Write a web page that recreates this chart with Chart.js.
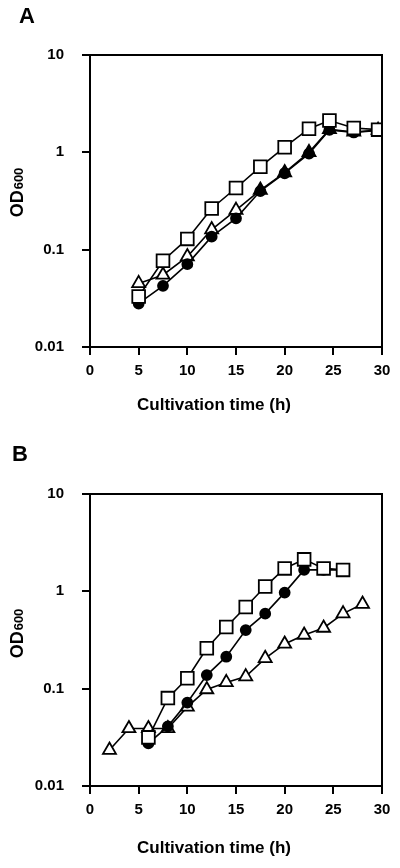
<!DOCTYPE html>
<html>
<head>
<meta charset="utf-8">
<script src="https://cdn.jsdelivr.net/npm/chart.js@4.4.1/dist/chart.umd.min.js"></script>
<style>
  html, body { margin: 0; padding: 0; background: #fff; }
  .panel { width: 400px; height: 434px; position: relative; }
</style>
</head>
<body>
<div class="panel"><canvas id="chartA" width="400" height="434"></canvas></div>
<div class="panel"><canvas id="chartB" width="400" height="434"></canvas></div>
<script>
// axis ticks
const xTicks = [0, 5, 10, 15, 20, 25, 30];
const yTicks = [0.01, 0.1, 1, 10];

// panel A (cultivation time, h)
const timeA = [5, 7.5, 10, 12.5, 15, 17.5, 20, 22.5, 24.6, 27.1, 29.6];
const squareA = [0.033, 0.077, 0.129, 0.265, 0.43, 0.71, 1.13, 1.75, 2.12, 1.78, 1.71];
const circleA = [0.028, 0.0425, 0.071, 0.136, 0.21, 0.40, 0.61, 0.97, 1.70, 1.60, 1.68];
const triangleA = [0.045, 0.055, 0.085, 0.161, 0.255, 0.41, 0.62, 1.0, 1.72, 1.62, 1.69];

// panel B
const timeB = [6, 8, 10, 12, 14, 16, 18, 20, 22, 24, 26];
const squareB = [0.0316, 0.080, 0.128, 0.26, 0.43, 0.69, 1.12, 1.72, 2.13, 1.72, 1.66];
const circleB = [0.0274, 0.041, 0.072, 0.138, 0.213, 0.40, 0.59, 0.97, 1.66, 1.66, 1.66];
const timeTriB = [2, 4, 6, 8, 10, 12, 14, 16, 18, 20, 22, 24, 26, 28];
const triangleB = [0.0234, 0.039, 0.039, 0.039, 0.065, 0.098, 0.116, 0.133, 0.205, 0.288, 0.356, 0.42, 0.59, 0.74];

const FONT = "'Liberation Sans', Arial, Helvetica, sans-serif";

function pts(xs, ys) {
    return xs.map((x, i) => ({ x: x, y: ys[i] }));
}

// box, panel letter and axis titles
const panelDecor = {
    id: 'panelDecor',
    afterDraw(chart, args, opts) {
        const ctx = chart.ctx;
        const a = chart.chartArea;
        ctx.save();
        ctx.strokeStyle = '#000';
        ctx.lineWidth = 2;
        ctx.strokeRect(a.left, a.top, a.right - a.left, a.bottom - a.top);

        ctx.fillStyle = '#000';
        ctx.textAlign = 'center';
        ctx.textBaseline = 'middle';
        ctx.font = 'bold 22px ' + FONT;
        ctx.fillText(opts.letter, opts.letterX, opts.letterY);

        ctx.font = 'bold 17px ' + FONT;
        ctx.fillText('Cultivation time (h)', opts.xTitleX, opts.xTitleY);

        // rotated OD600 with small 600
        ctx.translate(opts.yTitleX, opts.yTitleY);
        ctx.rotate(-Math.PI / 2);
        ctx.font = 'bold 18px ' + FONT;
        const w1 = ctx.measureText('OD').width;
        ctx.font = 'bold 13px ' + FONT;
        const w2 = ctx.measureText('600').width;
        const start = -(w1 + w2) / 2;
        ctx.textAlign = 'left';
        ctx.textBaseline = 'alphabetic';
        ctx.font = 'bold 18px ' + FONT;
        ctx.fillText('OD', start, 6);
        ctx.font = 'bold 13px ' + FONT;
        ctx.fillText('600', start + w1 + 1, 6);
        ctx.restore();
    }
};

function makeChart(id, datasets, top, bottom, decor) {
    const canvas = document.getElementById(id);
    return new Chart(canvas.getContext('2d'), {
        type: 'line',
        data: { datasets: datasets },
        options: {
            responsive: false,
            animation: false,
            layout: { padding: { top: top, right: 18, left: 0, bottom: 0 } },
            plugins: {
                legend: { display: false },
                tooltip: { enabled: false },
                panelDecor: decor
            },
            scales: {
                x: {
                    type: 'linear',
                    min: 0,
                    max: 30,
                    afterBuildTicks: s => { s.ticks = xTicks.map(v => ({ value: v })); },
                    afterFit: s => { s.height = 434 - bottom; },
                    ticks: {
                        color: '#000',
                        padding: 7,
                        maxRotation: 0,
                        font: { family: FONT, size: 15, weight: 'bold' }
                    },
                    grid: { drawOnChartArea: false, drawTicks: true, tickLength: 8, color: '#000', lineWidth: 2 },
                    border: { color: '#000', width: 2 }
                },
                y: {
                    type: 'logarithmic',
                    min: 0.01,
                    max: 10,
                    afterBuildTicks: s => { s.ticks = yTicks.map(v => ({ value: v })); },
                    afterFit: s => { s.width = 90; },
                    ticks: {
                        color: '#000',
                        padding: 18,
                        font: { family: FONT, size: 15, weight: 'bold' },
                        callback: v => String(v)
                    },
                    grid: { drawOnChartArea: false, drawTicks: true, tickLength: 8, color: '#000', lineWidth: 2 },
                    border: { color: '#000', width: 2 }
                }
            }
        },
        plugins: [panelDecor]
    });
}

const lineStyle = {
    borderColor: '#000',
    borderWidth: 1.6,
    pointBorderColor: '#000',
    pointBorderWidth: 1.8,
    tension: 0,
    fill: false
};

function squareSet(data) {
    return Object.assign({}, lineStyle, { data: data, pointStyle: 'rect', pointRadius: 9, pointBackgroundColor: '#fff' });
}
function circleSet(data) {
    return Object.assign({}, lineStyle, { data: data, pointStyle: 'circle', pointRadius: 5, pointBackgroundColor: '#000' });
}
function triangleSet(data, fillFrom) {
    return Object.assign({}, lineStyle, {
        data: data,
        pointStyle: 'triangle',
        pointRadius: 7.5,
        pointBackgroundColor: c => (c.raw && c.raw.x >= fillFrom ? '#000' : '#fff')
    });
}

document.addEventListener('DOMContentLoaded', function() {
    makeChart('chartA', [
        squareSet(pts(timeA, squareA)),
        circleSet(pts(timeA, circleA)),
        triangleSet(pts(timeA, triangleA), 17)
    ], 55, 347, { letter: 'A', letterX: 27, letterY: 17, xTitleX: 214, xTitleY: 405, yTitleX: 17, yTitleY: 193 });

    makeChart('chartB', [
        squareSet(pts(timeB, squareB)),
        circleSet(pts(timeB, circleB)),
        triangleSet(pts(timeTriB, triangleB), 99)
    ], 60, 352, { letter: 'B', letterX: 20, letterY: 21, xTitleX: 214, xTitleY: 414, yTitleX: 17, yTitleY: 200 });
});
</script>
</body>
</html>
